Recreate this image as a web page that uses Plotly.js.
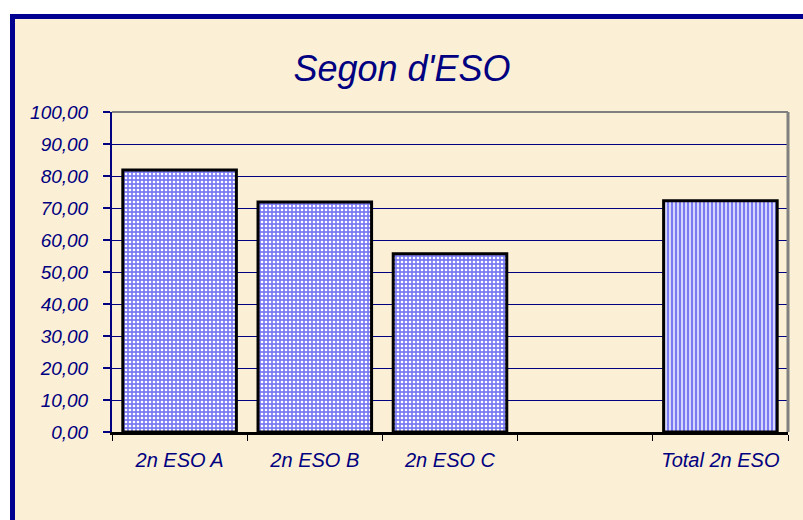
<!DOCTYPE html>
<html>
<head>
<meta charset="utf-8">
<script src="https://cdn.plot.ly/plotly-3.0.1.min.js"></script>
<style>
  html, body { margin: 0; padding: 0; background: #ffffff; overflow: hidden; width: 803px; height: 520px; }
  #wrap {
    position: absolute; left: 10px; top: 14px;
    border: 5px solid #000090;
    background: #fbefd5;
  }
  #chart { width: 788px; height: 501px; }
</style>
</head>
<body>
<div id="wrap"><div id="chart"></div></div>
<script>
  // categories (4th slot is an empty gap in the original sheet)
  const groups = ["2n ESO A", "2n ESO B", "2n ESO C", " ", "Total 2n ESO"];
  const scores = [81.9, 71.9, 55.7, null, 72.3];
  const patterns = [".", ".", ".", ".", "|"];

  const navy = "#000080";
  const fam = "Liberation Sans, Arial, sans-serif";

  const trace = {
    type: "bar",
    x: groups,
    y: scores,
    marker: {
      color: "#7a7af2",
      line: { color: "#000000", width: 3 },
      pattern: {
        shape: patterns,
        bgcolor: "#7a7af2",
        fgcolor: "#ffffff",
        size: 4,
        solidity: 0.35,
        fillmode: "replace",
      },
    },
    hoverinfo: "x+y",
  };

  const layout = {
    width: 788,
    height: 501,
    margin: { l: 97, r: 15, t: 93, b: 88 },
    paper_bgcolor: "#fbefd5",
    plot_bgcolor: "rgba(0,0,0,0)",
    separators: ",.",
    bargap: 0.16,
    showlegend: false,
    title: {
      text: "Segon d'ESO",
      font: { family: fam, size: 36, color: navy, style: "italic" },
      xref: "container", x: 0.491,
      yref: "container", y: 0.902, yanchor: "middle",
    },
    xaxis: {
      type: "category",
      tickson: "boundaries",
      ticks: "outside",
      ticklen: 6,
      tickwidth: 1,
      tickcolor: "#000000",
      ticklabelstandoff: 8,
      showline: true,
      linecolor: "#000000",
      linewidth: 3,
      showgrid: false,
      tickfont: { family: fam, size: 20, color: navy, style: "italic" },
      fixedrange: true,
    },
    yaxis: {
      range: [0, 100],
      dtick: 10,
      tickformat: ".2f",
      ticks: "outside",
      ticklen: 7,
      tickwidth: 2,
      tickcolor: navy,
      ticklabelstandoff: 11,
      showline: true,
      linecolor: navy,
      linewidth: 2,
      showgrid: true,
      gridcolor: navy,
      gridwidth: 1,
      zeroline: false,
      tickfont: { family: fam, size: 19, color: navy, style: "italic" },
      fixedrange: true,
    },
    shapes: [
      { type: "line", xref: "paper", yref: "paper", x0: 0, x1: 1, y0: 1, y1: 1, line: { color: "#808080", width: 2 } },
      { type: "line", xref: "paper", yref: "paper", x0: 1, x1: 1, y0: 0, y1: 1, line: { color: "#808080", width: 3 } },
    ],
  };

  Plotly.newPlot("chart", [trace], layout, { displayModeBar: false, staticPlot: true });
</script>
</body>
</html>
